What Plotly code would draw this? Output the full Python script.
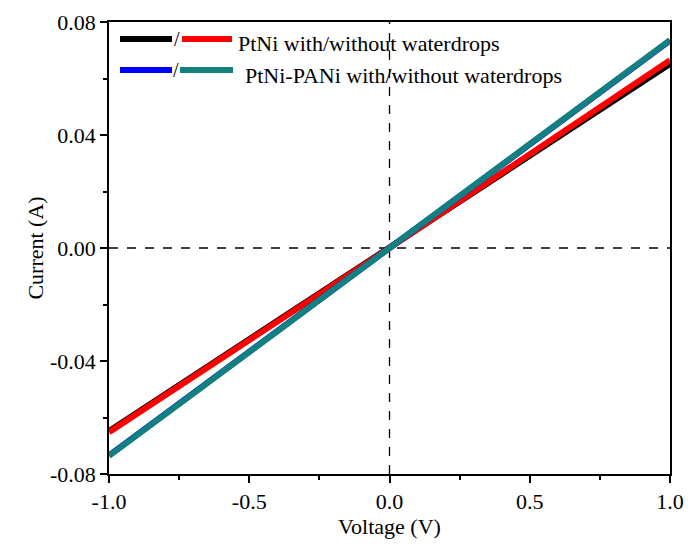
import plotly.graph_objects as go

voltage = [-1.0, -0.5, 0.0, 0.5, 1.0]
ptni_with = [-0.0648, -0.0324, 0.0, 0.0325, 0.0652]
ptni_without = [-0.0652, -0.0328, 0.0, 0.0332, 0.0665]
pani_with = [-0.0734, -0.0367, 0.0, 0.0367, 0.0734]
pani_without = [-0.0736, -0.0368, 0.0, 0.0368, 0.0736]

y_ticks = [-0.08, -0.04, 0.0, 0.04, 0.08]
y_ticklabels = ["-0.08", "-0.04", "0.00", "0.04", "0.08"]
x_ticks = [-1.0, -0.5, 0.0, 0.5, 1.0]
x_ticklabels = ["-1.0", "-0.5", "0.0", "0.5", "1.0"]

series = [
    ("PtNi with waterdrops", ptni_with, "#000000"),
    ("PtNi without waterdrops", ptni_without, "#ff0000"),
    ("PtNi-PANi with waterdrops", pani_with, "#0000ff"),
    ("PtNi-PANi without waterdrops", pani_without, "#138080"),
]

FONT = "Liberation Serif, Times New Roman, serif"

# page offset (body margin) is ~8px
OFF = 8
L, R, T, B = 109, 670, 22, 474  # target plot-area pixel bounds in the screenshot
W, H = 685, 538

fig = go.Figure()
for name, ys, col in series:
    fig.add_trace(go.Scatter(x=voltage, y=ys, mode="lines", name=name,
                             line=dict(color=col, width=6), showlegend=False))

# dashed zero lines
fig.add_shape(type="line", xref="x", yref="paper", x0=0, x1=0, y0=0, y1=1,
              line=dict(color="black", width=1.3, dash="dash"), layer="below")
fig.add_shape(type="line", xref="paper", yref="y", x0=0, x1=1, y0=0, y1=0,
              line=dict(color="black", width=1.3, dash="dash"), layer="below")

# custom legend
def px_x(px):
    return (px - L) / (R - L)

def px_y(py):
    return 1 - (py - T) / (B - T)

rows = [
    (39, 43, "#000000", "#ff0000", "PtNi with/without waterdrops", 236, (120, 172), (182, 232)),
    (70, 76, "#0000ff", "#138080", "PtNi-PANi with/without waterdrops", 243, (120, 172), (180, 233)),
]
for py, ty, c1, c2, label, tx, s1, s2 in rows:
    fig.add_shape(type="line", xref="paper", yref="paper",
                  x0=px_x(s1[0]), x1=px_x(s1[1]), y0=px_y(py), y1=px_y(py),
                  line=dict(color=c1, width=6))
    fig.add_shape(type="line", xref="paper", yref="paper",
                  x0=px_x(s2[0]), x1=px_x(s2[1]), y0=px_y(py), y1=px_y(py),
                  line=dict(color=c2, width=6))
    fig.add_annotation(xref="paper", yref="paper", x=px_x((s1[1] + s2[0]) / 2), y=px_y(py),
                       text="/", showarrow=False, font=dict(family=FONT, size=20, color="black"),
                       xanchor="center", yanchor="middle")
    fig.add_annotation(xref="paper", yref="paper", x=px_x(tx), y=px_y(ty),
                       text=label, showarrow=False, font=dict(family=FONT, size=22, color="black"),
                       xanchor="left", yanchor="middle")

fig.update_layout(
    width=W, height=H,
    margin=dict(l=L - OFF, r=W + OFF - R, t=T - OFF, b=H + OFF - B),
    paper_bgcolor="white", plot_bgcolor="white",
    font=dict(family=FONT, size=22, color="black"),
    showlegend=False,
)
fig.update_xaxes(
    range=[-1.0, 1.0], tickvals=x_ticks, ticktext=x_ticklabels, automargin=False,
    showgrid=False, zeroline=False, showline=True, linecolor="black", linewidth=1.5,
    mirror=True, ticks="outside", ticklen=7, tickwidth=1.5, tickcolor="black",
    minor=dict(ticks="outside", ticklen=4, tickwidth=1.5, tickcolor="black", dtick=0.25, showgrid=False),
    title=dict(text="Voltage (V)", font=dict(family=FONT, size=22), standoff=2),
    tickfont=dict(family=FONT, size=22),
)
fig.update_yaxes(
    range=[-0.08, 0.08], tickvals=y_ticks, ticktext=y_ticklabels, automargin=False,
    showgrid=False, zeroline=False, showline=True, linecolor="black", linewidth=1.5,
    mirror=True, ticks="outside", ticklen=7, tickwidth=1.5, tickcolor="black",
    minor=dict(ticks="outside", ticklen=4, tickwidth=1.5, tickcolor="black", dtick=0.02, showgrid=False),
    title=dict(text="Current (A)", font=dict(family=FONT, size=22), standoff=0),
    tickfont=dict(family=FONT, size=22),
)

fig.write_html("out.html")
